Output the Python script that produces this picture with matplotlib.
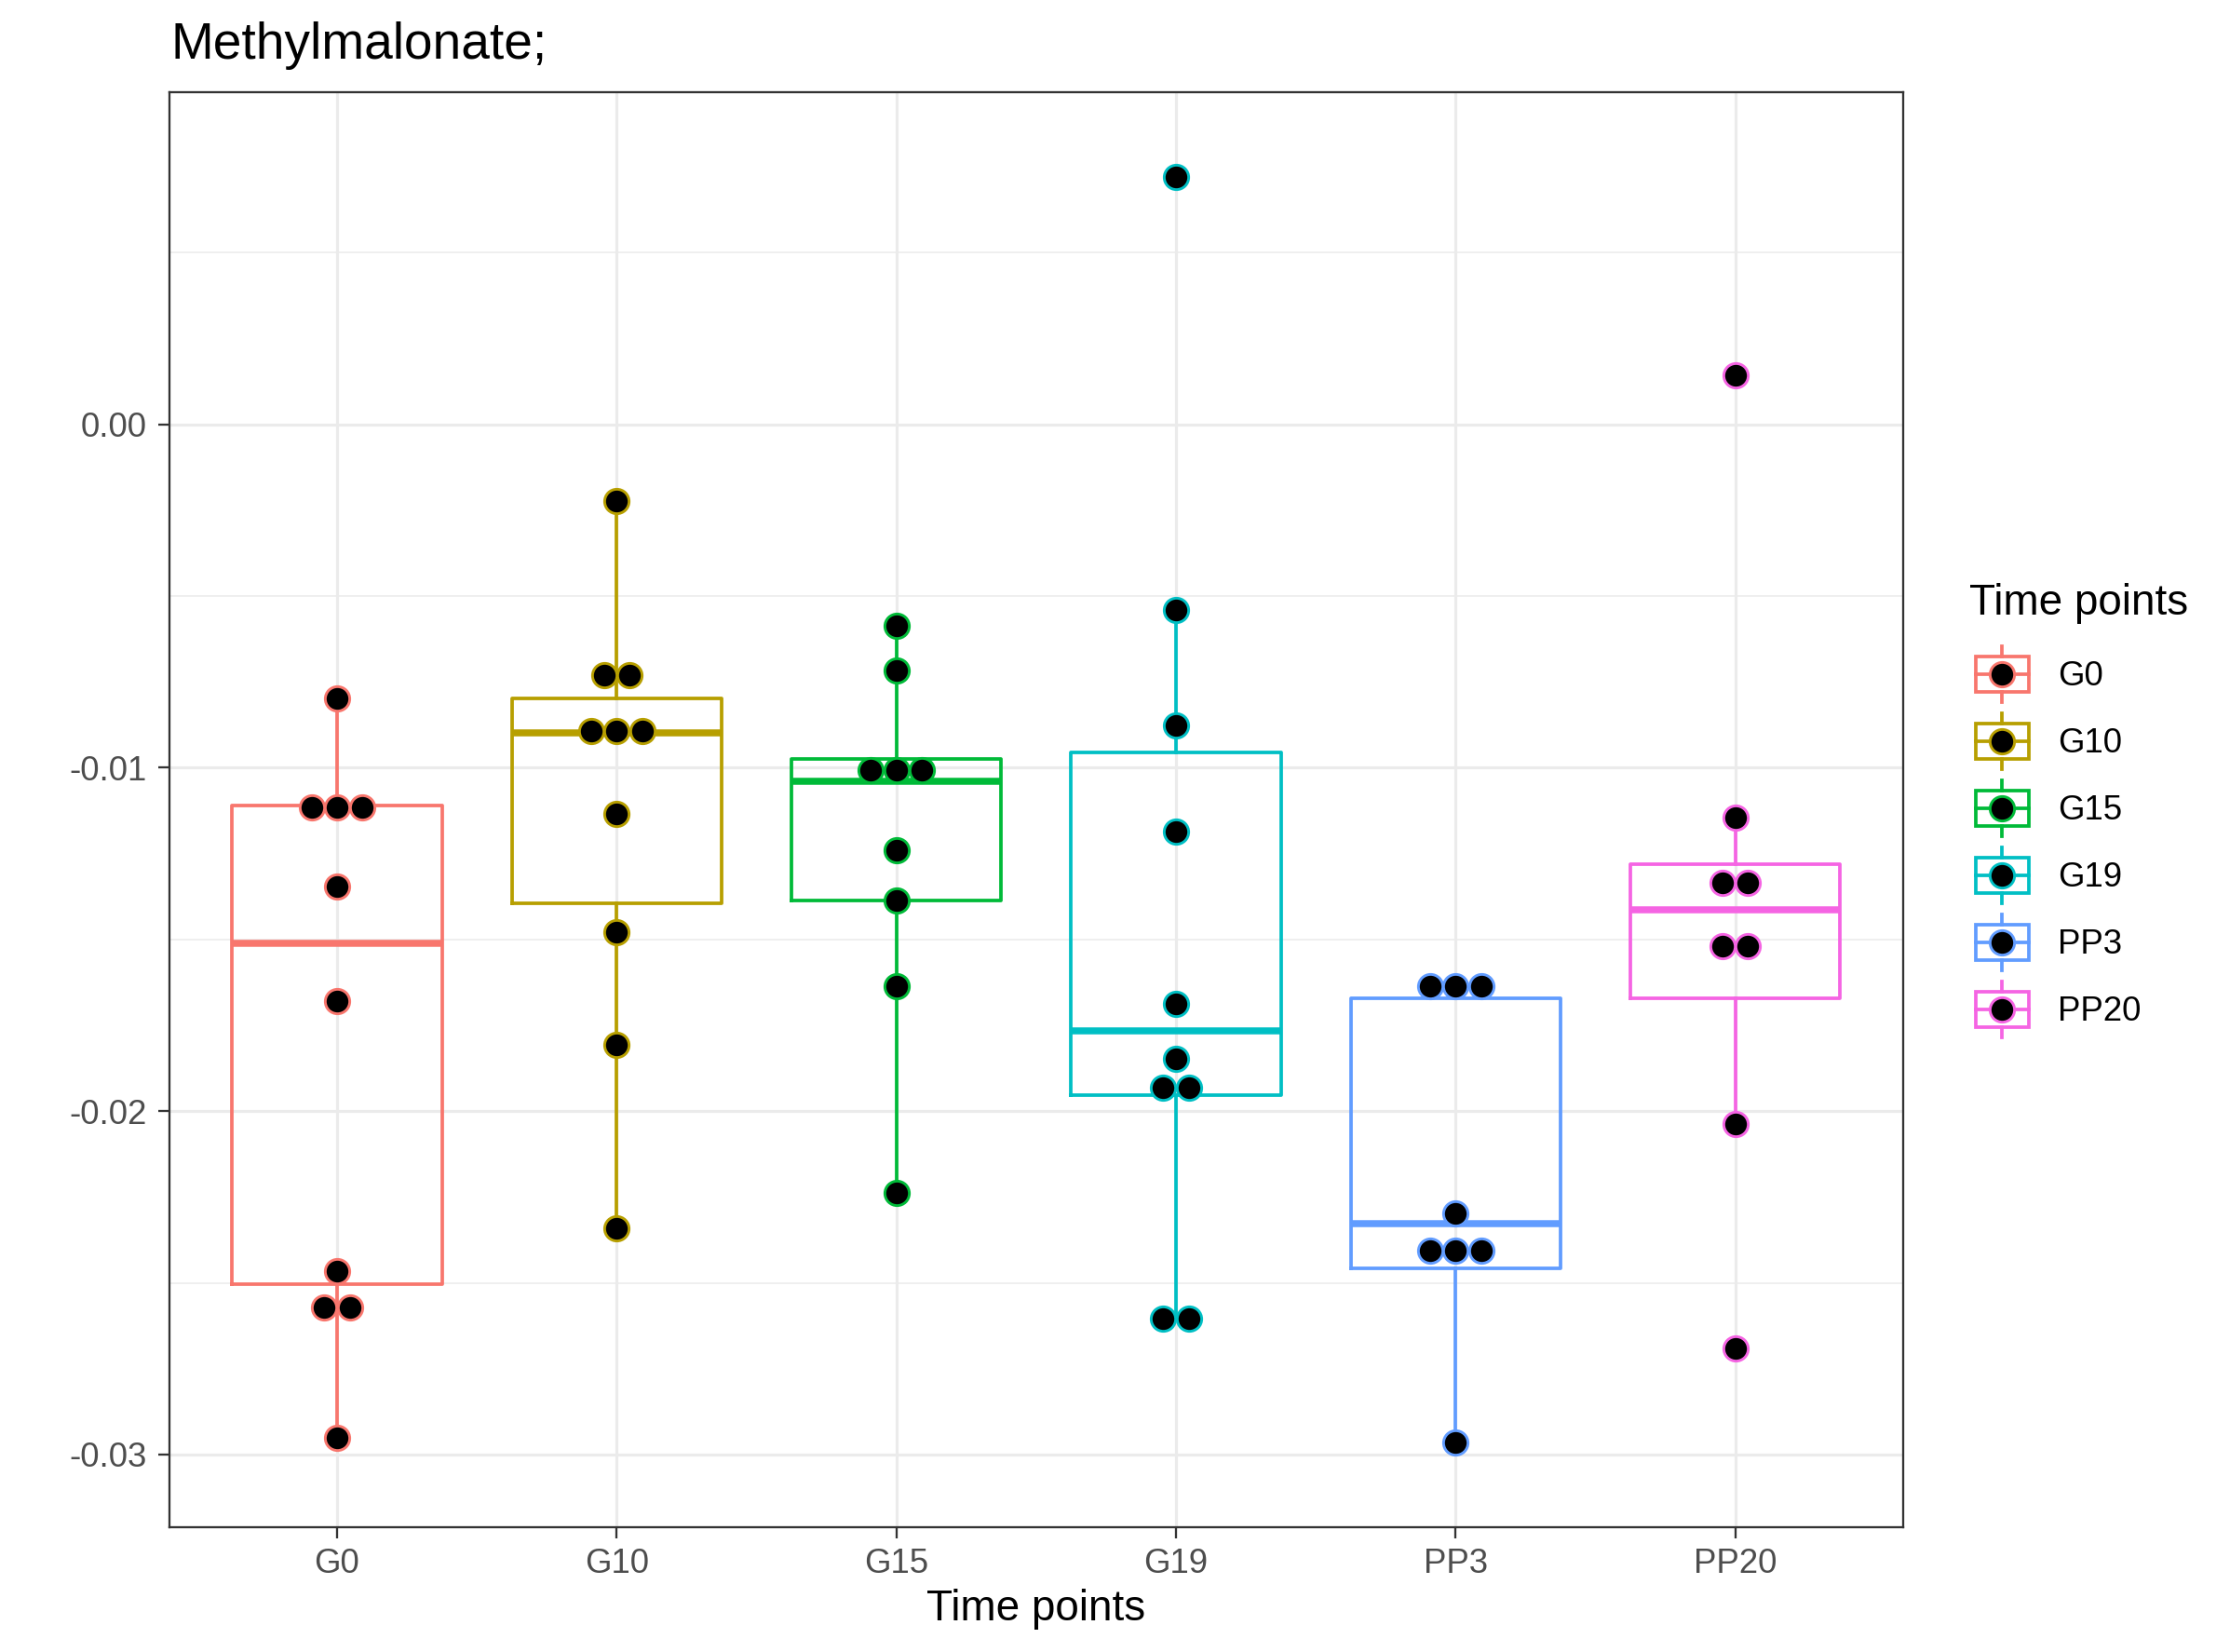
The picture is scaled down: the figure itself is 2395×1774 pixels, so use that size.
import numpy as np
import matplotlib
matplotlib.use("Agg")
import matplotlib.pyplot as plt
from matplotlib.patches import Rectangle
from matplotlib.lines import Line2D

plt.rcParams['font.family'] = ['Liberation Sans', 'DejaVu Sans']

# ---------------- data ----------------
categories = ["G0", "G10", "G15", "G19", "PP3", "PP20"]
colors = ["#F8766D", "#B79F00", "#00BA38", "#00BFC4", "#619CFF", "#F564E3"]

g0_values = [-0.00798, -0.01116, -0.01116, -0.01116, -0.01346, -0.01679,
             -0.02465, -0.02573, -0.02573, -0.02951]
g10_values = [-0.00222, -0.00731, -0.00731, -0.00892, -0.00892, -0.00892,
              -0.01134, -0.01480, -0.01807, -0.02341]
g15_values = [-0.00586, -0.00717, -0.01006, -0.01006, -0.01006, -0.01240,
              -0.01386, -0.01635, -0.02239]
g19_values = [0.00721, -0.00539, -0.00877, -0.01187, -0.01688, -0.01847,
              -0.01931, -0.01931, -0.02604, -0.02604]
pp3_values = [-0.01635, -0.01635, -0.01635, -0.02297, -0.02406, -0.02406,
              -0.02406, -0.02965]
pp20_values = [0.00143, -0.01145, -0.01336, -0.01336, -0.01519, -0.01519,
               -0.02037, -0.02690]
series_values = [g0_values, g10_values, g15_values, g19_values, pp3_values, pp20_values]

# box statistics (as drawn)
box_q3 = [-0.01109, -0.00798, -0.00973, -0.00956, -0.01672, -0.01281]
box_median = [-0.01511, -0.00899, -0.01040, -0.01767, -0.02327, -0.01415]
box_q1 = [-0.02503, -0.01394, -0.01386, -0.01953, -0.02457, -0.01672]
whisker_high = [-0.00798, -0.00222, -0.00586, -0.00539, -0.01635, -0.01145]
whisker_low = [-0.02951, -0.02341, -0.02239, -0.02604, -0.02965, -0.02037]

y_ticks = [-0.03, -0.02, -0.01, 0.00]
y_ticklabels = ["-0.03", "-0.02", "-0.01", "0.00"]

title = "Methylmalonate;"
x_title = "Time points"
legend_title = "Time points"

# ---------------- figure ----------------
W, H, DPI = 2395, 1774, 300
fig = plt.figure(figsize=(W / DPI, H / DPI), dpi=DPI)
fig.patch.set_facecolor("white")

pl, pr, pt, pb = 181.8, 2043.7, 99.3, 1640.0
ax = fig.add_axes([pl / W, 1 - pb / H, (pr - pl) / W, (pb - pt) / H])

positions = np.arange(1, len(categories) + 1)
box_lw = 0.9

stats = []
for i in range(len(categories)):
    stats.append(dict(med=box_median[i], q1=box_q1[i], q3=box_q3[i],
                      whislo=whisker_low[i], whishi=whisker_high[i], fliers=[]))

res = ax.bxp(stats, positions=positions, widths=0.75, showcaps=False,
             showfliers=False, patch_artist=False, manage_ticks=False)
for i, c in enumerate(colors):
    res['boxes'][i].set(color=c, linewidth=box_lw, zorder=3)
    res['medians'][i].set(color=c, linewidth=box_lw * 2.0, zorder=3,
                          solid_capstyle='butt')
    res['whiskers'][2 * i].set(color=c, linewidth=box_lw, zorder=3)
    res['whiskers'][2 * i + 1].set(color=c, linewidth=box_lw, zorder=3)

# dot plot (stacked, centred)
dot_step = 0.091
for i, vals in enumerate(series_values):
    vals = np.asarray(vals)
    xs, ys = [], []
    for v in dict.fromkeys(vals.tolist()):
        n = int(np.sum(vals == v))
        offs = (np.arange(n) - (n - 1) / 2) * dot_step
        xs.extend(positions[i] + offs)
        ys.extend([v] * n)
    ax.plot(xs, ys, 'o', ms=6.3, mfc='black', mec=colors[i], mew=0.7,
            linestyle='none', zorder=4)

# axes styling
ax.set_xlim(0.4, 6.6)
ax.set_ylim(-0.03212, 0.00967)
ax.set_xticks(positions)
ax.set_xticklabels(categories)
ax.set_yticks(y_ticks)
ax.set_yticklabels(y_ticklabels)
minor = [(a + b) / 2 for a, b in zip(y_ticks[:-1], y_ticks[1:])] + [y_ticks[-1] + 0.005]
ax.set_yticks(minor, minor=True)
ax.tick_params(axis='y', which='minor', length=0)
ax.tick_params(axis='both', which='major', length=2.9, width=0.55,
               color='#333333', labelcolor='#4D4D4D', labelsize=8.8)
ax.tick_params(axis='x', pad=2.4)
ax.tick_params(axis='y', pad=2.9)
ax.grid(True, which='major', color='#EBEBEB', linewidth=0.75, zorder=0)
ax.grid(True, which='minor', axis='y', color='#EBEBEB', linewidth=0.38, zorder=0)
ax.set_axisbelow(True)
for s in ax.spines.values():
    s.set_color('#333333')
    s.set_linewidth(0.55)
    s.set_zorder(5)

ax.set_xlabel(x_title, fontsize=11, color='black')
ax.xaxis.set_label_coords(0.5, (1 - 1740 / H - (1 - pb / H)) / ((pb - pt) / H))
ax.xaxis.label.set_va('baseline')

fig.text(183.7 / W, 1 - 62.7 / H, title, fontsize=13.2, ha='left',
         va='baseline', color='black')

# ---------------- legend ----------------
lax = fig.add_axes([0, 0, 1, 1])
lax.set_xlim(0, W)
lax.set_ylim(H, 0)
lax.axis('off')
lax.text(2115, 660, legend_title, fontsize=11, ha='left', va='baseline')
kx0, kx1, kxc = 2121.7, 2179.0, 2150.3
for i, (lab, c) in enumerate(zip(categories, colors)):
    yc = 723.5 + 72.0 * i
    lax.add_line(Line2D([kxc, kxc], [yc - 30, yc - 19], color=c, lw=box_lw))
    lax.add_line(Line2D([kxc, kxc], [yc + 19, yc + 30], color=c, lw=box_lw))
    lax.add_patch(Rectangle((kx0, yc - 19), kx1 - kx0, 38, fill=False,
                            edgecolor=c, lw=box_lw))
    lax.add_line(Line2D([kx0, kx1], [yc, yc], color=c, lw=box_lw))
    lax.plot([kxc], [yc], 'o', ms=6.3, mfc='black', mec=c, mew=0.7)
    lax.text(2210, yc + 3, lab, fontsize=8.8, ha='left', va='center', color='black')

fig.savefig("out.png", dpi=DPI)
